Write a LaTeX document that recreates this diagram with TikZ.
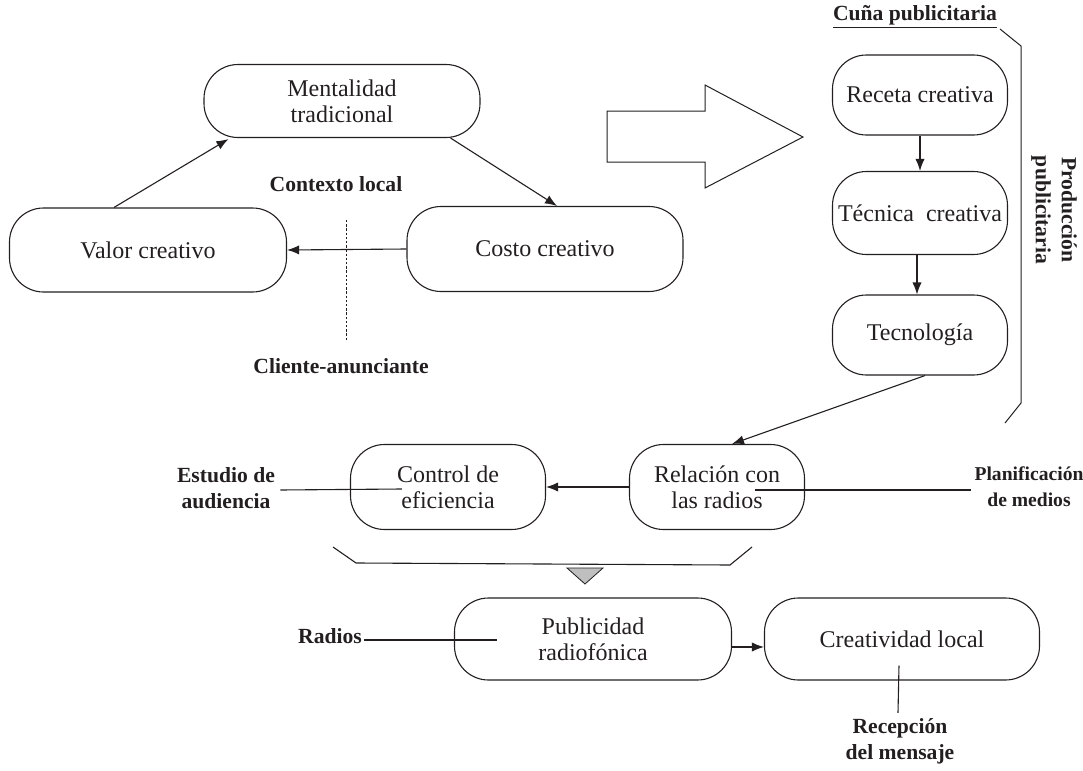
\documentclass[tikz,border=0pt]{standalone}
\usepackage{fontspec}
\setmainfont{Liberation Serif}
\usetikzlibrary{arrows.meta,calc}
\definecolor{ink}{HTML}{231F20}
\tikzset{
  box/.style={draw=ink, rounded corners=17pt, inner sep=0pt, align=center, text=ink,
    font=\fontsize{12}{13}\selectfont, line width=0.55pt},
  lab/.style={align=center, text=ink, font=\fontsize{10.8}{13}\selectfont\bfseries, inner sep=0pt},
  arr/.style={draw=ink, line width=0.55pt, -{Latex[length=6pt,width=4.6pt]}},
  ln/.style={draw=ink, line width=0.55pt},
}
\begin{document}
\begin{tikzpicture}[x=0.5pt,y=-0.5pt]
\useasboundingbox (0,0) rectangle (1083,771);
% top-left cycle
\node[box, minimum width=138pt, minimum height=36.5pt] (M) at (342,101) {Mentalidad\\tradicional};
\node[box, minimum width=138.5pt, minimum height=42pt] (V) at (148,250) {Valor creativo};
\node[box, minimum width=138pt, minimum height=42.5pt] (C) at (545,249) {Costo creativo};
\node[lab] (ctx) at (336,184) {Contexto local};
\node[lab] (cli) at (341,366) {Cliente-anunciante};
\coordinate (dt) at (346,220);
\coordinate (db) at (346,340);
\draw[ln, dash pattern=on 1.2pt off 0.9pt, line width=0.4pt] (dt) -- (db);
\draw[arr] (C.west) -- (V.east);
\draw[arr] ($(V.north)+(-34,0)$) -- ($(M.south west)+(25,1)$);
\draw[arr] ($(M.south east)+(-30,0)$) -- ($(C.north)+(12,0)$);
% big arrow
\coordinate (a1) at (607,111);
\coordinate (a2) at (705,111);
\coordinate (a3) at (705,85);
\coordinate (a4) at (803,137);
\coordinate (a5) at (705,188);
\coordinate (a6) at (705,162);
\coordinate (a7) at (607,162);
\draw[ln, line width=0.5pt] (a1) -- (a2) -- (a3) -- (a4) -- (a5) -- (a6) -- (a7) -- cycle;
% right column
\node[lab] (cuna) at (915,17) {\underline{Cuña publicitaria}};
\coordinate (b1) at (1000,29);
\coordinate (b2) at (1021,46);
\coordinate (b3) at (1021,403);
\coordinate (b4) at (1005,423);
\draw[ln, line width=0.5pt] (b1) -- (b2) -- (b3) -- (b4);
\node[lab, rotate=-90] (prod) at (1054,210) {Producción\\publicitaria};
\node[box, minimum width=87.5pt, minimum height=40pt] (Re) at (920,95) {Receta creativa};
\node[box, minimum width=87.5pt, minimum height=41.5pt] (Te) at (920,213) {Técnica\ \ creativa};
\node[box, minimum width=87.5pt, minimum height=40pt] (Tc) at (920,335) {Tecnología};
\draw[arr] (Re.south) -- (Te.north);
\draw[arr] ($(Te.south)+(-3,0)$) -- ($(Tc.north)+(-3,0)$);
% middle row
\node[box, minimum width=97.5pt, minimum height=42.5pt] (Co) at (448,487) {Control de\\eficiencia};
\node[box, minimum width=87.5pt, minimum height=42.5pt] (Rl) at (717,487) {Relación con\\las radios};
\draw[arr] ($(Tc.south)+(5,0)$) -- ($(Rl.north)+(15,0)$);
\draw[arr] (Rl.west) -- (Co.east);
\node[lab] (est) at (226,488) {Estudio de\\audiencia};
\node[lab, font=\fontsize{9.8}{13}\selectfont\bfseries] (pla) at (1029,487) {Planificación\\de medios};
\draw[ln] ($(est.east)+(5,2)$) -- ($(Co.west)+(52,2)$);
\draw[ln] ($(Rl.east)+(-50,3)$) -- ($(pla.west)+(-3,3)$);
% bracket and triangle
\coordinate (c1) at (333,547);
\coordinate (c2) at (356,563);
\coordinate (c3) at (730,565);
\coordinate (c4) at (752,547);
\draw[ln] (c1) -- (c2) -- (c3) -- (c4);
\coordinate (t1) at (567,568);
\coordinate (t2) at (603,568);
\coordinate (t3) at (585,584);
\draw[ln, fill=black!25, line width=0.4pt] (t1) -- (t2) -- (t3) -- cycle;
% bottom row
\node[box, minimum width=138.5pt, minimum height=41pt] (Pu) at (593,639) {Publicidad\\radiofónica};
\node[box, minimum width=137.5pt, minimum height=41pt] (Cr) at (902,639) {Creatividad local};
\draw[arr] ($(Pu.east)+(0,8)$) -- ($(Cr.west)+(0,8)$);
\node[lab] (rad) at (330,636) {Radios};
\draw[ln] ($(rad.east)+(2,4)$) -- ($(Pu.west)+(43,1)$);
\node[lab] (rec) at (900,741) {Recepción\\del mensaje};
\draw[ln] ($(Cr.south)+(-3,-15)$) -- ($(rec.north)+(-2,-5)$);
\end{tikzpicture}
\end{document}
